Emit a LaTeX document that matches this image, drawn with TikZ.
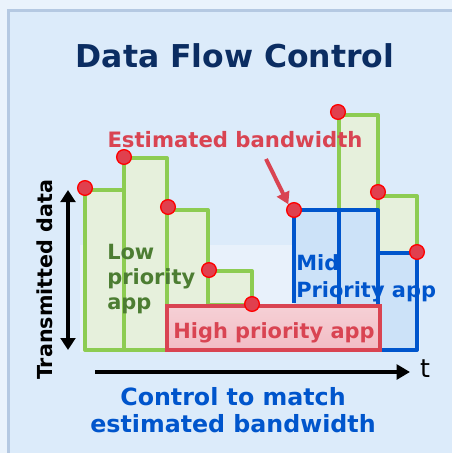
\documentclass[tikz,border=0pt]{standalone}
\usepackage{fontspec}
\setmainfont{DejaVu Sans}
\usetikzlibrary{arrows.meta}
\definecolor{outerbg}{HTML}{EAF3FC}
\definecolor{panelbg}{HTML}{DCEBFA}
\definecolor{panelline}{HTML}{B5C9E2}
\definecolor{navy}{HTML}{0B2D62}
\definecolor{grn}{HTML}{8DCC52}
\definecolor{grnfill}{HTML}{E6F0DC}
\definecolor{grntext}{HTML}{4C7D32}
\definecolor{blu}{HTML}{0055CC}
\definecolor{blufill}{HTML}{CCE2F8}
\definecolor{redc}{HTML}{D94452}
\definecolor{redfill}{HTML}{F2BCC4}
\definecolor{dotred}{HTML}{E0404E}
\tikzset{
  gbar/.style={draw=grn,fill=grnfill,line width=3pt,line join=round},
  bbar/.style={draw=blu,fill=blufill,line width=3pt,line join=round},
  dotm/.style={circle,fill=dotred,draw=red,line width=1pt,inner sep=0pt,minimum size=11pt},
  lbl/.style={font=\bfseries\fontsize{15.7}{18.8}\selectfont,align=left,inner sep=0pt},
}
\begin{document}
\begin{tikzpicture}[x=0.75pt,y=-0.75pt]
\useasboundingbox (0,0) rectangle (452,453);
\fill[outerbg] (0,0) rectangle (452,453);
\fill[panelline] (7,9) rectangle (452,453);
\fill[panelbg] (10,12) rectangle (452,453);
\fill[white,opacity=0.35] (80,245) rectangle (420,352);
% title
\node[font=\bfseries\fontsize{23.6}{28}\selectfont,text=navy] (title) at (235,56) {Data Flow Control};
% green bars
\draw[gbar] (85,350) rectangle (124,190);
\draw[gbar] (124,350) rectangle (167,158);
\draw[gbar] (167,350) rectangle (208,210);
\draw[gbar] (208,305) rectangle (252,271);
\draw[gbar] (339,210) rectangle (378,115);
\draw[gbar] (378,253) rectangle (417,196);
% blue boxes
\fill[blufill] (294,210) rectangle (378,305);
\fill[blufill] (378,253) rectangle (417,350);
\draw[bbar,fill=none] (294,303) -- (294,210) -- (378,210) -- (378,253) -- (417,253) -- (417,350) -- (378,350);
\draw[blu,line width=3pt] (339,210) -- (339,305);
\draw[blu,line width=3pt] (378,253) -- (378,350);
% red box
\draw[draw=redc,line width=2.5pt,top color=redfill!70!white,bottom color=redfill] (167,306) rectangle (380,350);
\node[lbl,text=redc] (high) at (274,333) {High priority app};
% dots
\node[dotm] (d1) at (85,188) {};
\node[dotm] (d2) at (124,157) {};
\node[dotm] (d3) at (168,207) {};
\node[dotm] (d4) at (209,270) {};
\node[dotm] (d5) at (252,304) {};
\node[dotm] (d6) at (294,210) {};
\node[dotm] (d7) at (338,112) {};
\node[dotm] (d8) at (378,192) {};
\node[dotm] (d9) at (417,252) {};
% labels
\node[lbl,text=redc,font=\bfseries\fontsize{15.9}{19}\selectfont] (est) at (235,140) {Estimated bandwidth};
\coordinate (arS) at (266,159);
\draw[redc,line width=3pt,-{Triangle[length=9pt,width=10pt]}] (arS) -- (d6.north west);
\node[lbl,text=grntext,anchor=north west] (low) at (107,244) {Low\\priority\\app};
\node[lbl,text=blu,anchor=north west] (mid) at (296,254) {Mid\\[2pt]Priority app};
% axes
\coordinate (vt) at (68,190);
\coordinate (vb) at (68,350);
\draw[line width=2.5pt,{Triangle[length=9pt,width=11pt]}-{Triangle[length=9pt,width=11pt]}] (vt) -- (vb);
\node[lbl,rotate=90,font=\bfseries\fontsize{15.5}{18}\selectfont] (tdata) at (45,280) {Transmitted data};
\coordinate (hl) at (95,372);
\coordinate (hr) at (410,372);
\draw[line width=2.5pt,-{Triangle[length=10pt,width=11pt]}] (hl) -- (hr);
\node[font=\fontsize{19}{20}\selectfont] (t) at (425,369) {t};
\node[lbl,text=blu,align=center,font=\bfseries\fontsize{17.8}{20.5}\selectfont] (ctrl) at (233,410) {Control to match\\estimated bandwidth};
\end{tikzpicture}
\end{document}
